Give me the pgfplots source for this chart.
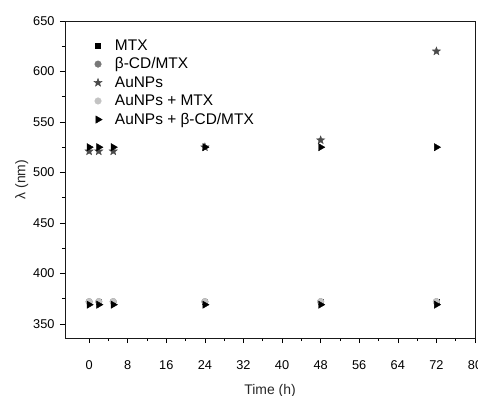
\documentclass[border=0pt]{standalone}
\usepackage{pgfplots}
\pgfplotsset{compat=1.18}
\usepackage{fontspec}
\setmainfont{Liberation Sans}
\pgfdeclareplotmark{fstar}{%
  \pgfpathmoveto{\pgfqpointpolar{90}{\pgfplotmarksize}}%
  \pgfpathlineto{\pgfqpointpolar{126}{0.42\pgfplotmarksize}}%
  \pgfpathlineto{\pgfqpointpolar{162}{\pgfplotmarksize}}%
  \pgfpathlineto{\pgfqpointpolar{198}{0.42\pgfplotmarksize}}%
  \pgfpathlineto{\pgfqpointpolar{234}{\pgfplotmarksize}}%
  \pgfpathlineto{\pgfqpointpolar{270}{0.42\pgfplotmarksize}}%
  \pgfpathlineto{\pgfqpointpolar{306}{\pgfplotmarksize}}%
  \pgfpathlineto{\pgfqpointpolar{342}{0.42\pgfplotmarksize}}%
  \pgfpathlineto{\pgfqpointpolar{18}{\pgfplotmarksize}}%
  \pgfpathlineto{\pgfqpointpolar{54}{0.42\pgfplotmarksize}}%
  \pgfpathclose
  \pgfusepathqfillstroke}
\begin{document}
\begin{tikzpicture}
\path[use as bounding box] (-65bp,-58bp) rectangle (413bp,338bp);
\begin{axis}[
  at={(0,0)}, anchor=south west,
  scale only axis, width=410bp, height=317bp,
  xmin=-5, xmax=80, ymin=336, ymax=650,
  xtick={0,8,...,80}, ytick={350,400,...,650},
  minor x tick num=1, minor y tick num=1,
  tick pos=left, tick align=outside,
  major tick length=5bp, minor tick length=3bp,
  every tick/.style={black, line width=0.6pt},
  axis line style={line width=0.9pt, black!90},
  /pgf/number format/assume math mode=true,
  /pgf/number format/1000 sep={},
  ticklabel style={font=\fontsize{12.8}{13}\selectfont, text=black},
  xticklabel style={yshift=-14bp},
  yticklabel style={xshift=-2bp},
  xlabel={Time (h)}, ylabel={λ (nm)},
  label style={font=\fontsize{14}{15}\selectfont, text=black!85},
  xlabel style={yshift=-8bp},
  ylabel style={yshift=-2bp},
  legend style={draw=none, fill=none, at={(0.055,0.955)}, anchor=north west,
    font=\fontsize{15.5}{18}\selectfont, row sep=2.2bp},
  legend cell align=left,
  legend image code/.code={\path (-0.05cm,0) (0.72cm,0);
    \draw[#1] plot coordinates {(0.2cm,0cm)};},
]
\addplot[only marks, mark=square*, mark size=2.4bp, black]
  coordinates {(0,372) (2,372) (5,372) (24,372) (48,372) (72,372)};
\addlegendentry{MTX}
\addplot[only marks, mark=*, mark size=3.3bp, color={rgb,255:red,120;green,120;blue,120}]
  coordinates {(0,372) (2,372) (5,372) (24,372) (48,372) (72,372)};
\addlegendentry{β-CD/MTX}
\addplot[only marks, mark=fstar, mark size=4.3bp, color={rgb,255:red,75;green,75;blue,75}]
  coordinates {(0,521) (2,521) (5,521) (24,525) (48,532) (72,620)};
\addlegendentry{AuNPs}
\addplot[only marks, mark=*, mark size=3.3bp, color={rgb,255:red,195;green,195;blue,195}]
  coordinates {(0,372) (2,372) (5,372) (24,372) (48,372) (72,372)};
\addlegendentry{AuNPs + MTX}
\addplot[only marks, mark=triangle*, mark size=4.2bp, black, mark options={rotate=-90}]
  coordinates {(0,525) (2,525) (5,525) (24,525) (48,525) (72,525)};
\addlegendentry{AuNPs + β-CD/MTX}
\addplot[only marks, mark=triangle*, mark size=4.2bp, black, mark options={rotate=-90}, forget plot]
  coordinates {(0,369) (2,369) (5,369) (24,369) (48,369) (72,369)};
\end{axis}
\end{tikzpicture}
\end{document}
